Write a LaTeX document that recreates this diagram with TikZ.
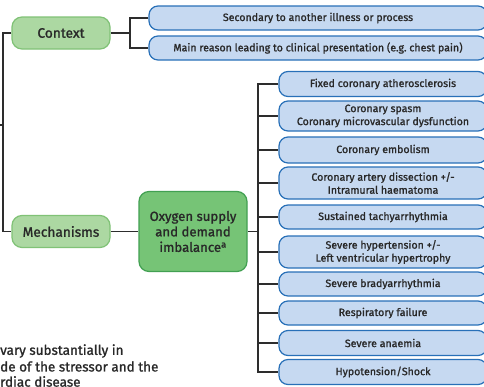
\documentclass[tikz,border=0pt]{standalone}
\usepackage{fontspec}
\setmainfont{Fira Sans}[FakeBold=1.2]
\definecolor{lgfill}{RGB}{172,216,162}
\definecolor{lgdraw}{RGB}{128,194,118}
\definecolor{dgfill}{RGB}{118,196,118}
\definecolor{dgdraw}{RGB}{66,160,82}
\definecolor{bfill}{RGB}{198,217,241}
\definecolor{bdraw}{RGB}{40,112,184}
\definecolor{linec}{RGB}{45,45,45}
\definecolor{txt}{RGB}{40,40,40}
\tikzset{
  ctxbox/.style={draw=lgdraw, fill=lgfill, line width=1.2pt, rounded corners=10pt, minimum width=98pt, minimum height=32pt, inner sep=0pt, font=\fontsize{13.7}{16}\selectfont, text=txt},
  oxbox/.style={draw=dgdraw, fill=dgfill, line width=1.2pt, rounded corners=10pt, minimum width=108pt, minimum height=80pt, inner sep=0pt, align=center, font=\fontsize{13.2}{15.5}\selectfont, text=txt},
  bluebox/.style={draw=bdraw, fill=bfill, line width=1.2pt, rounded corners=9pt, inner sep=0pt, align=center, font=\fontsize{10.6}{13}\selectfont, text=txt},
  conn/.style={draw=linec, line width=1.3pt},
  foot/.style={anchor=west, inner sep=0pt, font=\fontsize{13.5}{16}\selectfont, text=txt}
}
\begin{document}
\begin{tikzpicture}[x=1pt,y=-1pt]
\clip (0,0) rectangle (484,386);
\fill[white] (0,0) rectangle (484,386);
% top level
\node[ctxbox] (ctx) at (61,33) {Context};
\node[ctxbox] (mech) at (61,231.5) {Mechanisms};
\node[oxbox] (ox) at (193,231.5) {Oxygen supply\\and demand\\imbalance\textsuperscript{a}};
% context boxes
\node[bluebox, minimum width=338pt, minimum height=24pt] (s1) at (318,18) {Secondary to another illness or process};
\node[bluebox, minimum width=338pt, minimum height=24pt] (s2) at (318,48) {Main reason leading to clinical presentation (e.g.\ chest pain)};
% mechanism boxes
\tikzset{mb/.style={bluebox, minimum width=208pt}}
\node[mb, minimum height=25pt] (m1) at (383,84) {Fixed coronary atherosclerosis};
\node[mb, minimum height=30pt] (m2) at (383,116) {Coronary spasm\\Coronary microvascular dysfunction};
\node[mb, minimum height=26pt] (m3) at (383,150) {Coronary embolism};
\node[mb, minimum height=32pt] (m4) at (383,183) {Coronary artery dissection +/-\\Intramural haematoma};
\node[mb, minimum height=24pt] (m5) at (383,217) {Sustained tachyarrhythmia};
\node[mb, minimum height=32pt] (m6) at (383,252) {Severe hypertension +/-\\Left ventricular hypertrophy};
\node[mb, minimum height=24pt] (m7) at (383,284) {Severe bradyarrhythmia};
\node[mb, minimum height=24pt] (m8) at (383,313) {Respiratory failure};
\node[mb, minimum height=25pt] (m9) at (383,343) {Severe anaemia};
\node[mb, minimum height=25pt] (m10) at (383,372) {Hypotension/Shock};
% coordinates
\coordinate (lb) at (3,125);
\coordinate (lstub) at (-3,125);
\coordinate (cb) at (130,33);
\coordinate (rb) at (258,231.5);
% connectors
\draw[conn] (lstub) -- (lb);
\draw[conn] (ctx.west) -| (lb) |- (mech.west);
\draw[conn] (ctx.east) -- (cb);
\draw[conn] (s1.west) -| (cb) |- (s2.west);
\draw[conn] (mech.east) -- (ox.west);
\draw[conn] (ox.east) -- (rb);
\draw[conn] (m1.west) -| (rb) |- (m10.west);
\foreach \m in {m2,m3,m4,m5,m6,m7,m8,m9}{
  \draw[conn] (rb |- \m.west) -- (\m.west);
}
% footnote fragment
\node[foot] (f1) at (0,351) {vary substantially in};
\node[foot] (f2) at (0,366.5) {de of the stressor and the};
\node[foot] (f3) at (0,381.5) {rdiac disease};
\end{tikzpicture}
\end{document}
